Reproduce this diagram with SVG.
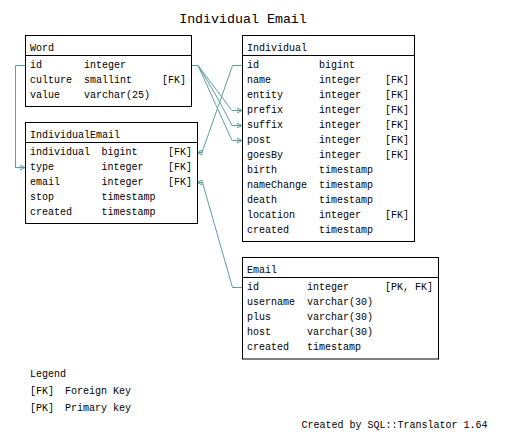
<svg xmlns="http://www.w3.org/2000/svg" width="518" height="435" viewBox="0 0 518 435">
<style>
text{font-family:"Liberation Mono","DejaVu Sans Mono",monospace;font-size:10px;fill:#000}
.title{font-size:13.3px}
.box{fill:#fff;stroke:#000;stroke-width:1}
.sep{stroke:#000;stroke-width:1}
.edge{fill:none;stroke:#5f9ea0;stroke-width:1}
</style>
<defs>
<marker id="arr" viewBox="0 0 6 6" refX="5.5" refY="3" markerWidth="6" markerHeight="6" markerUnits="userSpaceOnUse" orient="auto">
<path d="M0.5,0.5 L5.5,3 L0.5,5.5 Z" fill="none" stroke="#5f9ea0" stroke-width="1"/>
</marker>
</defs>
<rect width="518" height="435" fill="#fff"/>
<text class="title" x="243" y="23" text-anchor="middle">Individual Email</text>

<g id="connectors">
<path class="edge" d="M25,65.5 H15.5 V167.5 H25" marker-end="url(#arr)"/>
<path class="edge" d="M164,65.5 H198 L232,110.5 H242" marker-end="url(#arr)"/>
<path class="edge" d="M164,65.5 H198 Q215,92 232,125.5 H242" marker-end="url(#arr)"/>
<path class="edge" d="M164,65.5 H198 L232,140.5 H242" marker-end="url(#arr)"/>
<path class="edge" d="M242,65.5 H232.5 L202,152.5 H197" marker-end="url(#arr)"/>
<path class="edge" d="M242,287.5 H232.5 L202.5,182.5 H197" marker-end="url(#arr)"/>
</g>

<g id="Word">
<rect class="box" x="25.5" y="35.5" width="166" height="71"/>
<line class="sep" x1="25.5" y1="55.5" x2="191.5" y2="55.5"/>
<text x="30" y="51">Word</text>
<text x="30" y="68">id</text><text x="84" y="68">integer</text>
<text x="30" y="83">culture</text><text x="84" y="83">smallint</text><text x="162" y="83">[FK]</text>
<text x="30" y="98">value</text><text x="84" y="98">varchar(25)</text>
</g>

<g id="IndividualEmail">
<rect class="box" x="25.5" y="122.5" width="172" height="101"/>
<line class="sep" x1="25.5" y1="142.5" x2="197.5" y2="142.5"/>
<text x="30" y="138">IndividualEmail</text>
<text x="30" y="155">individual</text><text x="101.5" y="155">bigint</text><text x="168" y="155">[FK]</text>
<text x="30" y="170">type</text><text x="101.5" y="170">integer</text><text x="168" y="170">[FK]</text>
<text x="30" y="185">email</text><text x="101.5" y="185">integer</text><text x="168" y="185">[FK]</text>
<text x="30" y="200">stop</text><text x="101.5" y="200">timestamp</text>
<text x="30" y="215">created</text><text x="101.5" y="215">timestamp</text>
</g>

<g id="Individual">
<rect class="box" x="242.5" y="35.5" width="172" height="206"/>
<line class="sep" x1="242.5" y1="55.5" x2="414.5" y2="55.5"/>
<text x="247" y="51">Individual</text>
<text x="247" y="68">id</text><text x="319" y="68">bigint</text>
<text x="247" y="83">name</text><text x="319" y="83">integer</text><text x="385" y="83">[FK]</text>
<text x="247" y="98">entity</text><text x="319" y="98">integer</text><text x="385" y="98">[FK]</text>
<text x="247" y="113">prefix</text><text x="319" y="113">integer</text><text x="385" y="113">[FK]</text>
<text x="247" y="128">suffix</text><text x="319" y="128">integer</text><text x="385" y="128">[FK]</text>
<text x="247" y="143">post</text><text x="319" y="143">integer</text><text x="385" y="143">[FK]</text>
<text x="247" y="158">goesBy</text><text x="319" y="158">integer</text><text x="385" y="158">[FK]</text>
<text x="247" y="173">birth</text><text x="319" y="173">timestamp</text>
<text x="247" y="188">nameChange</text><text x="319" y="188">timestamp</text>
<text x="247" y="203">death</text><text x="319" y="203">timestamp</text>
<text x="247" y="218">location</text><text x="319" y="218">integer</text><text x="385" y="218">[FK]</text>
<text x="247" y="233">created</text><text x="319" y="233">timestamp</text>
</g>

<g id="Email">
<rect class="box" x="242.5" y="257.5" width="196" height="101.5"/>
<line class="sep" x1="242.5" y1="277.5" x2="438.5" y2="277.5"/>
<text x="247" y="273">Email</text>
<text x="247" y="290">id</text><text x="307" y="290">integer</text><text x="385" y="290">[PK, FK]</text>
<text x="247" y="305">username</text><text x="307" y="305">varchar(30)</text>
<text x="247" y="320">plus</text><text x="307" y="320">varchar(30)</text>
<text x="247" y="335">host</text><text x="307" y="335">varchar(30)</text>
<text x="247" y="350">created</text><text x="307" y="350">timestamp</text>
</g>

<g id="legend">
<text x="30" y="377">Legend</text>
<text x="30" y="394">[FK]</text><text x="65" y="394">Foreign Key</text>
<text x="30" y="411">[PK]</text><text x="65" y="411">Primary key</text>
</g>
<text x="301.5" y="428">Created by SQL::Translator 1.64</text>
</svg>
